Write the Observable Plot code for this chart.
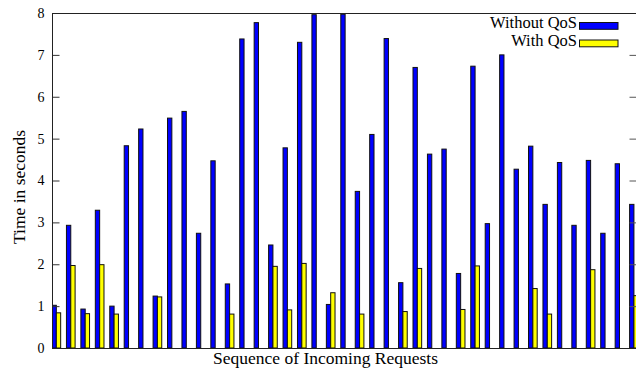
<!DOCTYPE html>
<html>
<head>
<meta charset="utf-8">
<script src="https://cdn.jsdelivr.net/npm/d3@7"></script>
<script src="https://cdn.jsdelivr.net/npm/@observablehq/plot@0.6"></script>
<style>
  html, body { margin: 0; padding: 0; background: #fff; overflow: hidden; }
  #chart { position: relative; width: 636px; height: 373px; }
</style>
</head>
<body>
<div id="chart"></div>
<script>
// Sequence of incoming requests (1..41 visible)
const requests = d3.range(1, 42);
// Time in seconds, without QoS (blue)
const withoutQoS = [1.02, 2.93, 0.93, 3.29, 1.00, 4.83, 5.23, 1.24, 5.49, 5.65, 2.74, 4.47, 1.53, 7.38, 7.77, 2.46, 4.78, 7.30, 7.96, 1.04, 7.97, 3.74, 5.10, 7.39, 1.56, 6.70, 4.63, 4.75, 1.78, 6.73, 2.97, 7.00, 4.27, 4.82, 3.43, 4.43, 2.93, 4.48, 2.74, 4.40, 3.43];
// Time in seconds, with QoS (yellow); null = no bar
const withQoS = [0.84, 1.97, 0.82, 1.99, 0.81, null, null, 1.22, null, null, null, null, 0.81, null, null, 1.95, 0.91, 2.02, null, 1.32, null, 0.81, null, null, 0.87, 1.90, null, null, 0.92, 1.96, null, null, null, 1.42, 0.81, null, null, 1.87, null, null, 1.25];
const yTicks = [0, 1, 2, 3, 4, 5, 6, 7, 8];
const seriesNames = ["Without QoS", "With QoS"];
const seriesColors = ["#0000ff", "#ffff00"];
const xLabel = "Sequence of Incoming Requests";
const yLabel = "Time in seconds";

const rows = requests.map((r, i) => ({idx: i, req: r, without: withoutQoS[i], with: withQoS[i]}));
const BW = 0.3;

const font = "'Liberation Serif', 'Times New Roman', serif";

const plot = Plot.plot({
  width: 636,
  height: 373,
  marginLeft: 52,
  marginRight: 0,
  marginTop: 13,
  marginBottom: 25,
  style: {fontFamily: font, fontSize: "14px", background: "#fff", color: "#000"},
  x: {domain: [0, 584 / 14.44], axis: null},
  y: {domain: [0, 8], axis: null},
  marks: [
    Plot.rectY(rows, {x1: d => d.idx, x2: d => d.idx + BW, y: "without", fill: seriesColors[0], stroke: "#111", strokeWidth: 1, clip: true}),
    Plot.rectY(rows.filter(d => d.with != null), {x1: d => d.idx + BW, x2: d => d.idx + 2 * BW, y: "with", fill: seriesColors[1], stroke: "#111", strokeWidth: 1, clip: true}),
    Plot.axisY({anchor: "left", ticks: yTicks, tickSize: -7.5, tickPadding: 15.5, tickFormat: d => String(d), label: null, fontSize: 14, fontFamily: font, stroke: "#333"}),
    Plot.axisY({anchor: "right", ticks: yTicks.slice(1), tickSize: -7.5, tickFormat: () => "", label: null, stroke: "#555"}),
    Plot.ruleY([0], {stroke: "#222"}),
    Plot.ruleY([8], {stroke: "#222"}),
    Plot.ruleX([0], {stroke: "#222"}),
    Plot.text([xLabel], {frameAnchor: "bottom", text: d => d, lineAnchor: "top", dy: 3.5, dx: -19, fontSize: 17.5, fontFamily: font})
  ]
});

document.getElementById("chart").appendChild(plot);

const svg = d3.select(plot);
// Y axis label (rotated)
svg.append("text")
  .attr("transform", "translate(25,187) rotate(-90)")
  .attr("text-anchor", "middle")
  .attr("font-family", font).attr("font-size", 17.5).attr("fill", "#000")
  .text(yLabel);

// Legend (top right, inside the plot frame)
const lg = svg.append("g").attr("font-family", font).attr("font-size", 16.5);
seriesNames.forEach((name, i) => {
  const by = 27.8 + i * 18.3;
  lg.append("text").attr("x", 577).attr("y", by).attr("text-anchor", "end").attr("fill", "#000").text(name);
  lg.append("rect").attr("x", 579.5).attr("y", 22.5 + i * 17.5).attr("width", 38.5).attr("height", 6.8)
    .attr("fill", seriesColors[i]).attr("stroke", "#111").attr("stroke-width", 1);
});
</script>
</body>
</html>
